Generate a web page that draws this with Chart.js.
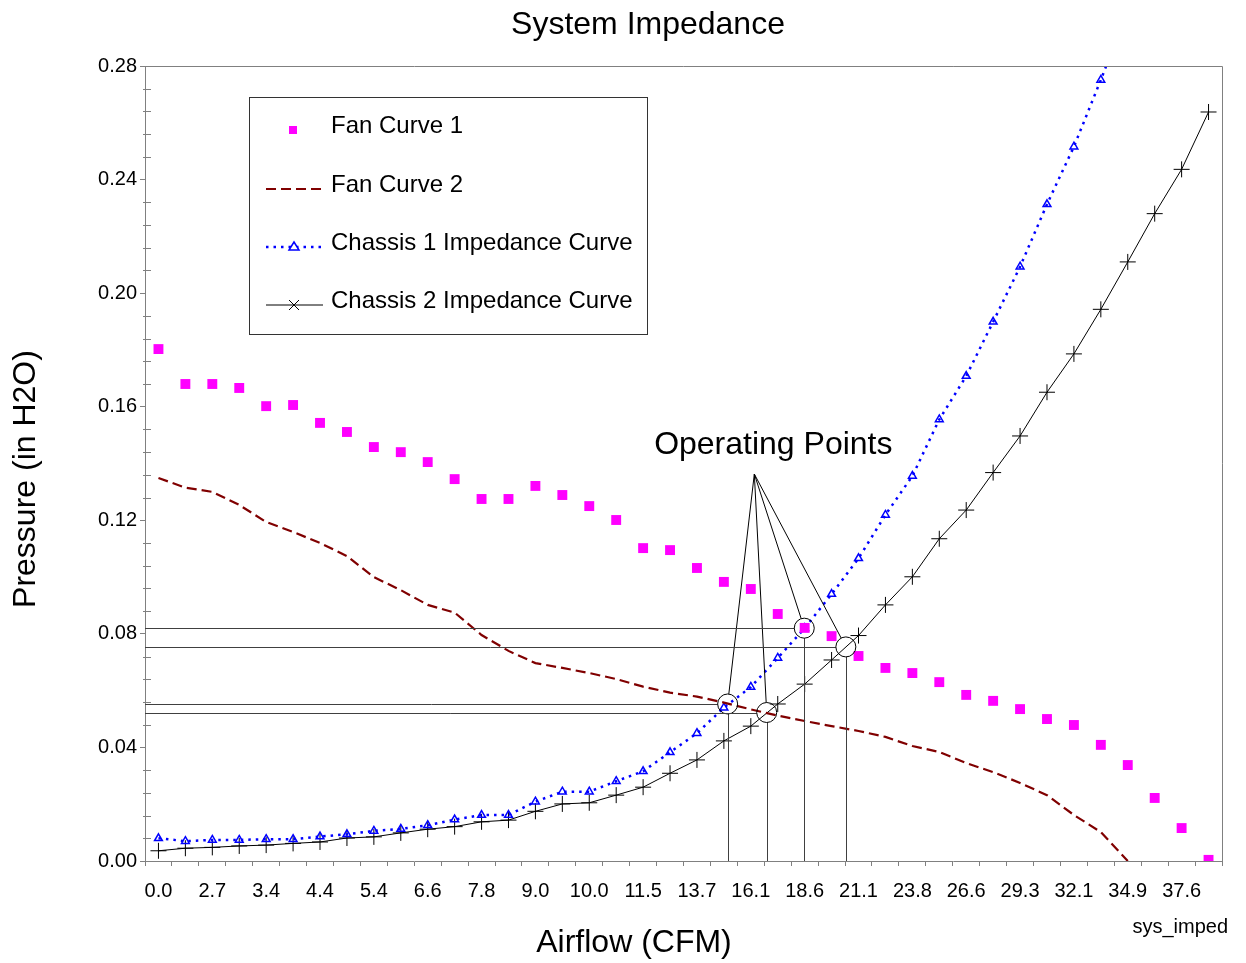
<!DOCTYPE html>
<html>
<head>
<meta charset="utf-8">
<title>System Impedance</title>
<script src="https://cdn.jsdelivr.net/npm/chart.js@4.4.1/dist/chart.umd.min.js"></script>
<style>
  html, body { margin: 0; padding: 0; background: #fff; }
  #wrap { width: 1246px; height: 963px; }
</style>
</head>
<body>
<div id="wrap"><canvas id="impedChart" width="1246" height="963"></canvas></div>
<script>
// airflow labels shown on every other category
const tickLabels = ['0.0', '2.7', '3.4', '4.4', '5.4', '6.6', '7.8', '9.0', '10.0', '11.5',
                    '13.7', '16.1', '18.6', '21.1', '23.8', '26.6', '29.3', '32.1', '34.9', '37.6'];
const categories = [];
tickLabels.forEach(l => { categories.push(l); categories.push(''); });

const fanCurve1 = [0.1803, 0.168, 0.168, 0.1666, 0.1602, 0.1606, 0.1543, 0.1511, 0.1458, 0.144,
                   0.1405, 0.1345, 0.1275, 0.1275, 0.1321, 0.1289, 0.125, 0.1201, 0.1102, 0.1095,
                   0.1032, 0.0983, 0.0958, 0.087, 0.0821, 0.0792, 0.0722, 0.068, 0.0662, 0.063,
                   0.0585, 0.0564, 0.0535, 0.05, 0.0479, 0.0409, 0.0338, 0.0222, 0.0116, 0.0004];
const fanCurve2 = [0.1349, 0.1315, 0.13, 0.1254, 0.1194, 0.1159, 0.112, 0.1074, 0.1, 0.0954,
                   0.0902, 0.0875, 0.0796, 0.074, 0.0697, 0.068, 0.0662, 0.0641, 0.0614, 0.0593,
                   0.0579, 0.0558, 0.0534, 0.0512, 0.0493, 0.0475, 0.0458, 0.0437, 0.0405, 0.0384,
                   0.0345, 0.0313, 0.0275, 0.0232, 0.0162, 0.0102, 0, null, null, null];
const chassis1 = [0.008, 0.007, 0.0074, 0.0074, 0.0077, 0.0077, 0.0086, 0.0094, 0.0106, 0.0113,
                  0.0126, 0.0146, 0.0162, 0.0162, 0.0209, 0.0244, 0.0244, 0.0281, 0.0316, 0.0383,
                  0.045, 0.054, 0.0613, 0.0715, 0.082, 0.094, 0.1066, 0.1219, 0.1356, 0.1555,
                  0.1708, 0.1899, 0.2093, 0.2313, 0.2516, 0.2751, 0.30, null, null, null];
const chassis2 = [0.0036, 0.0045, 0.0048, 0.0053, 0.0056, 0.0062, 0.0067, 0.0081, 0.0085, 0.0099,
                  0.0112, 0.0121, 0.0138, 0.0144, 0.0175, 0.0201, 0.0205, 0.0232, 0.026, 0.0309,
                  0.0356, 0.0423, 0.0475, 0.0553, 0.0623, 0.0708, 0.0794, 0.0902, 0.1001, 0.1135,
                  0.1236, 0.1368, 0.1497, 0.1651, 0.1786, 0.1943, 0.211, 0.228, 0.2436, 0.2638];

// operating points (category index, pressure) and where the callout lines meet
const opIndex = [21.14, 22.59, 23.985, 25.53];
const opPressure = [0.0553, 0.0523, 0.082, 0.0754];
const calloutIndex = 22.13;
const calloutPressure = 0.1363;

const FONT = "'Liberation Sans', Arial, sans-serif";
const isMajor = v => Math.abs(v / 0.04 - Math.round(v / 0.04)) < 1e-6;

const annotate = {
  id: 'annotate',
  afterDatasetsDraw(chart) {
    const { ctx, chartArea: a, scales: { x, y } } = chart;
    const r = 10;
    ctx.save();

    // minor ticks on the y axis point inwards
    ctx.strokeStyle = '#808080';
    ctx.lineWidth = 1;
    y.ticks.forEach(t => {
      if (isMajor(t.value)) return;
      const py = Math.round(y.getPixelForValue(t.value)) + 0.5;
      ctx.beginPath();
      ctx.moveTo(a.left - 2, py);
      ctx.lineTo(a.left + 6, py);
      ctx.stroke();
    });

    // frame top and right
    ctx.beginPath();
    ctx.moveTo(a.left, a.top + 0.5);
    ctx.lineTo(a.right + 0.5, a.top + 0.5);
    ctx.lineTo(a.right + 0.5, a.bottom);
    ctx.stroke();

    const ax = x.getPixelForValue(calloutIndex);
    const ay = y.getPixelForValue(calloutPressure);

    opIndex.forEach((idx, i) => {
      const cx = x.getPixelForValue(idx);
      const cy = y.getPixelForValue(opPressure[i]);
      ctx.strokeStyle = '#404040';
      ctx.lineWidth = 1;
      ctx.beginPath();
      ctx.moveTo(a.left, Math.round(cy) + 0.5);
      ctx.lineTo(cx - r, Math.round(cy) + 0.5);
      ctx.moveTo(Math.round(cx) + 0.5, cy + r);
      ctx.lineTo(Math.round(cx) + 0.5, a.bottom);
      ctx.stroke();

      ctx.strokeStyle = '#000';
      ctx.beginPath();
      ctx.arc(cx, cy, r, 0, Math.PI * 2);
      ctx.stroke();

      const dx = cx - ax, dy = cy - ay;
      const len = Math.hypot(dx, dy);
      ctx.beginPath();
      ctx.moveTo(ax, ay);
      ctx.lineTo(cx - dx / len * r, cy - dy / len * r);
      ctx.stroke();
    });

    ctx.fillStyle = '#000';
    ctx.font = '32px ' + FONT;
    ctx.textAlign = 'center';
    ctx.textBaseline = 'alphabetic';
    ctx.fillText('Operating Points', ax + 19, ay - 20);
    ctx.restore();
  },
  afterDraw(chart) {
    const { ctx } = chart;
    ctx.save();
    ctx.fillStyle = '#000';
    ctx.textBaseline = 'alphabetic';

    ctx.font = '32px ' + FONT;
    ctx.textAlign = 'center';
    ctx.fillText('System Impedance', 648, 34);
    ctx.fillText('Airflow (CFM)', 634, 952);
    ctx.save();
    ctx.translate(35, 479);
    ctx.rotate(-Math.PI / 2);
    ctx.fillText('Pressure (in H2O)', 0, 0);
    ctx.restore();

    ctx.font = '20px ' + FONT;
    ctx.textAlign = 'right';
    ctx.fillText('sys_imped', 1228, 933);

    // legend box
    const lx = 249, ly = 97;
    ctx.strokeStyle = '#333';
    ctx.lineWidth = 1;
    ctx.strokeRect(lx + 0.5, ly + 0.5, 398, 237);

    const ds = chart.data.datasets;
    const rows = [126, 185, 243, 301];
    ctx.font = '24px ' + FONT;
    ctx.textAlign = 'left';
    ctx.textBaseline = 'middle';
    rows.forEach((ry, i) => {
      const d = ds[i];
      const my = ry + 4;
      ctx.fillStyle = '#000';
      ctx.fillText(d.label, 331, ry);
      if (d.showLine !== false) {
        ctx.save();
        ctx.strokeStyle = d.borderColor;
        ctx.lineWidth = d.borderWidth;
        ctx.setLineDash(d.borderDash || []);
        ctx.beginPath();
        ctx.moveTo(266, my);
        ctx.lineTo(323, my);
        ctx.stroke();
        ctx.restore();
      }
      ctx.save();
      if (i === 0) {
        ctx.fillStyle = d.pointBackgroundColor;
        ctx.fillRect(289, my - 4, 8, 8);
      } else if (i === 2) {
        ctx.strokeStyle = d.pointBorderColor;
        ctx.lineWidth = 1.5;
        ctx.fillStyle = '#fff';
        ctx.beginPath();
        ctx.moveTo(294, my - 5);
        ctx.lineTo(299, my + 3);
        ctx.lineTo(289, my + 3);
        ctx.closePath();
        ctx.fill();
        ctx.stroke();
      } else if (i === 3) {
        ctx.strokeStyle = '#000';
        ctx.lineWidth = 1;
        ctx.beginPath();
        ctx.moveTo(289, my - 5);
        ctx.lineTo(299, my + 5);
        ctx.moveTo(299, my - 5);
        ctx.lineTo(289, my + 5);
        ctx.stroke();
      }
      ctx.restore();
    });
    ctx.restore();
  }
};

new Chart(document.getElementById('impedChart'), {
  type: 'line',
  data: {
    labels: categories,
    datasets: [
      {
        label: 'Fan Curve 1',
        data: fanCurve1,
        showLine: false,
        pointStyle: 'rect',
        pointRadius: 7,
        pointBorderWidth: 0,
        pointBackgroundColor: '#ff00ff',
        borderColor: '#ff00ff'
      },
      {
        label: 'Fan Curve 2',
        data: fanCurve2,
        borderColor: '#800000',
        borderWidth: 2.2,
        borderDash: [10, 5],
        pointRadius: 0
      },
      {
        label: 'Chassis 1 Impedance Curve',
        data: chassis1,
        borderColor: '#0000ff',
        borderWidth: 2.5,
        borderDash: [2.5, 5],
        pointStyle: 'triangle',
        pointRadius: 4.5,
        pointBorderWidth: 1.5,
        pointBorderColor: '#0000ff',
        pointBackgroundColor: 'rgba(255,255,255,0)'
      },
      {
        label: 'Chassis 2 Impedance Curve',
        data: chassis2,
        borderColor: '#000',
        borderWidth: 1,
        pointStyle: 'cross',
        pointRadius: 8,
        pointBorderWidth: 1,
        pointBorderColor: '#000'
      }
    ]
  },
  options: {
    responsive: false,
    devicePixelRatio: 1,
    animation: false,
    events: [],
    layout: { padding: { top: 66, right: 24, bottom: 0, left: 0 } },
    plugins: {
      legend: { display: false },
      tooltip: { enabled: false }
    },
    scales: {
      x: {
        type: 'category',
        offset: true,
        grid: { offset: true, drawOnChartArea: false, tickLength: 5, color: '#808080' },
        border: { color: '#808080' },
        ticks: { autoSkip: false, maxRotation: 0, padding: 13, color: '#000', font: { family: FONT, size: 20 } },
        afterFit: s => { s.height = 102; }
      },
      y: {
        min: 0,
        max: 0.28,
        grid: {
          drawOnChartArea: false,
          tickLength: 5,
          tickColor: c => (c.tick && isMajor(c.tick.value)) ? '#808080' : 'rgba(0,0,0,0)'
        },
        border: { color: '#808080' },
        ticks: {
          stepSize: 0.008,
          autoSkip: false,
          padding: 3,
          color: '#000',
          font: { family: FONT, size: 20 },
          callback: v => isMajor(v) ? v.toFixed(2) : ''
        },
        afterFit: s => { s.width = 145; }
      }
    }
  },
  plugins: [annotate]
});
</script>
</body>
</html>
